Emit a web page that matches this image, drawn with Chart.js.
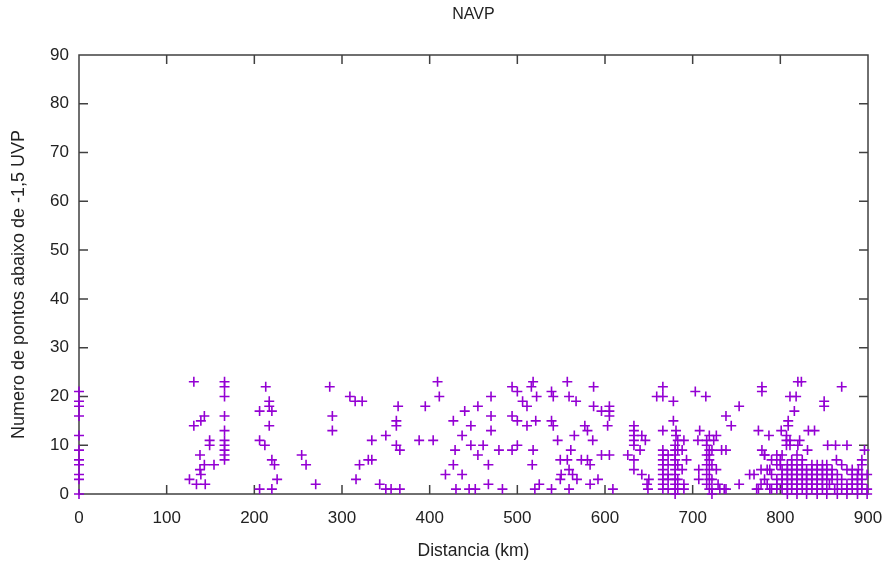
<!DOCTYPE html>
<html>
<head>
<meta charset="utf-8">
<script src="https://cdn.jsdelivr.net/npm/chart.js@4"></script>
<style>
  html, body { margin: 0; padding: 0; background: #fff; }
  #grafico { display: block; }
</style>
</head>
<body>
<canvas id="grafico" width="886" height="567"></canvas>
<script>
// pontos: [distancia km, numero de pontos]
const trecho0a300 = [
  [0,21],[0,19],[0,18],[0,16],[0,12],[0,9],[0,7],[0,6],[0,4],[0,3],[0,0],
  [131,23],[126,3],[134,2],[144,2],[139,4],[138,5],[143,6],[154,6],[138,8],[149,11],[149,10],[131,14],[139,15],[143,16],
  [166,23],[166,22],[166,20],[166,16],[166,13],[166,11],[166,10],[166,9],[166,8],[166,7],
  [213,22],[217,19],[217,18],[206,17],[220,17],[217,14],[206,11],[212,10],[220,7],[223,6],[226,3],[206,1],[220,1],
  [254,8],[259,6],[270,2],[286,22],[289,16],[289,13]
];
const trecho300a600 = [
  [309,20],[315,19],[323,19],[316,3],[320,6],[330,7],[334,7],[334,11],[343,2],[350,1],[350,12],
  [356,1],[366,1],[362,15],[362,14],[364,18],[362,10],[366,9],[388,11],[404,11],[395,18],
  [409,23],[411,20],[418,4],[427,6],[437,4],[429,9],[427,15],[437,12],[440,17],[447,14],[447,10],[455,8],[461,10],[455,18],
  [430,1],[445,1],[452,1],[467,2],[467,6],[470,20],[470,16],[470,13],
  [479,9],[483,1],[494,22],[500,21],[494,16],[500,15],[494,9],[500,10],[506,19],[511,18],[511,14],[516,22],[518,23],
  [521,15],[522,20],[518,9],[517,6],[520,1],[525,2],[539,21],[541,20],[539,15],[541,14],[539,1],[546,11],[549,7],[557,7],
  [549,3],[550,4],[557,23],[559,20],[567,19],[559,5],[563,4],[568,3],[559,1],[561,9],[565,12],[573,7],[577,14],[580,13],
  [580,7],[583,6],[583,2],[586,11],[587,22],[587,18],[592,3],
  [596,17],[605,18],[605,17],[605,16],[603,14],[596,8],[605,8]
];
const trecho600a750 = [
  [609,1],[626,8],[633,14],[633,13],[633,12],[633,11],[633,10],[633,7],[633,5],[640,9],[642,12],[646,11],[642,4],[650,3],[648,2],[649,1],
  [659,20],[666,22],[666,20],[666,13],[666,9],[666,8],[666,7],[666,6],[666,5],[666,4],[666,3],[666,2],[666,1],
  [672,8],[672,6],[672,4],[672,3],[672,1],
  [678,19],[678,15],[681,13],[681,12],[680,10],[680,9],[680,8],[680,7],[680,6],[680,5],[680,4],[680,3],[680,2],[680,1],[680,0],
  [683,11],[683,9],[683,6],[683,3],[683,1],
  [688,9],[688,5],[690,11],[693,7],[690,2],[690,1],
  [703,21],[708,13],[706,11],[707,5],[707,3],
  [715,20],[719,12],[727,12],[716,11],[724,11],[722,9],[733,9],[738,9],[719,8],
  [716,10],[719,9],[716,8],[719,7],[716,6],[719,5],[716,4],[719,3],[716,2],[719,1],[722,0],[722,6],[722,3],[722,1],
  [727,5],[729,2],[731,1],[736,1],[753,2],[738,16],[744,14],[753,18],[738,1]
];
const trecho750a900 = [
  [775,13],[779,22],[779,21],[779,9],[782,8],[787,12],[765,4],[770,4],[773,1],[775,1],[778,2],[778,5],[782,3],[788,5],[788,1],[790,7],[800,7],[800,6],
  [801,13],[807,12],[807,11],[811,11],[807,10],[811,10],[809,15],[809,14],[811,20],[818,20],[816,17],[820,23],[824,23],
  [822,11],[820,10],[831,9],[832,13],[839,13],[850,19],[850,18],[854,10],[863,10],[876,10],[870,22],[896,9],
  [864,7],[870,6],[876,5],[893,7],[889,5],
  // bloco denso perto do fim
  [790,1],[796,1],[802,1],[808,1],[813,1],[819,1],[825,1],[830,1],[836,1],[842,1],[848,1],[853,1],[862,1],[870,1],[876,1],[882,1],[888,1],[893,1],[899,1],
  [785,2],[796,2],[802,2],[808,2],[813,2],[819,2],[825,2],[830,2],[836,2],[842,2],[848,2],[856,2],[865,2],[876,2],[882,2],[888,2],[893,2],
  [796,3],[802,3],[808,3],[813,3],[819,3],[825,3],[830,3],[836,3],[842,3],[848,3],[853,3],[859,3],[870,3],[882,3],[888,3],[893,3],
  [790,4],[802,4],[808,4],[813,4],[819,4],[825,4],[830,4],[836,4],[842,4],[848,4],[853,4],[859,4],[865,4],[882,4],[888,4],[893,4],[899,4],
  [785,5],[802,5],[808,5],[813,5],[819,5],[825,5],[830,5],[836,5],[842,5],[848,5],[853,5],[859,5],[882,5],
  [796,6],[808,6],[813,6],[819,6],[825,6],[836,6],[842,6],[848,6],[853,6],[893,6],
  [813,7],[825,7],[782,8],[796,8],[802,8],[819,8],
  [808,0],[819,0],[830,0],[842,0],[853,0],[865,0],[876,0],[888,0],[899,0]
];

const ticksX = [0, 100, 200, 300, 400, 500, 600, 700, 800, 900];
const ticksY = [0, 10, 20, 30, 40, 50, 60, 70, 80, 90];
const titulo = "NAVP";

const pontos = [...trecho0a300, ...trecho300a600, ...trecho600a750, ...trecho750a900]
  .map(([x, y]) => ({ x, y }));

const fonte = "'Liberation Sans', Arial, sans-serif";

// moldura com marcas para dentro, estilo gnuplot
const moldura = {
  id: "moldura",
  beforeDatasetsDraw(chart) {
    const { ctx, chartArea: a, scales } = chart;
    const tam = 9;
    ctx.save();
    ctx.strokeStyle = "#404040";
    ctx.lineWidth = 1.5;
    ctx.strokeRect(a.left, a.top, a.right - a.left, a.bottom - a.top);
    ctx.beginPath();
    ticksX.slice(1, -1).forEach((v) => {
      const px = scales.x.getPixelForValue(v);
      ctx.moveTo(px, a.bottom); ctx.lineTo(px, a.bottom - tam);
      ctx.moveTo(px, a.top); ctx.lineTo(px, a.top + tam);
    });
    ticksY.slice(1, -1).forEach((v) => {
      const py = scales.y.getPixelForValue(v);
      ctx.moveTo(a.left, py); ctx.lineTo(a.left + tam, py);
      ctx.moveTo(a.right, py); ctx.lineTo(a.right - tam, py);
    });
    ctx.stroke();
    // titulo centrado sobre a area do grafico, como no gnuplot
    ctx.fillStyle = "#222";
    ctx.font = "16px " + fonte;
    ctx.textAlign = "center";
    ctx.textBaseline = "middle";
    ctx.fillText(titulo, (a.left + a.right) / 2, 15);
    ctx.restore();
  },
};

new Chart(document.getElementById("grafico"), {
  type: "scatter",
  data: {
    datasets: [{
      label: titulo,
      data: pontos,
      pointStyle: "cross",
      pointRadius: 5,
      pointHoverRadius: 5,
      pointBorderWidth: 1.6,
      borderColor: "#9400d3",
      backgroundColor: "#9400d3",
      clip: false,
    }],
  },
  options: {
    responsive: false,
    animation: false,
    devicePixelRatio: 1,
    layout: { padding: { left: 0, right: 18, top: 55, bottom: 0 } },
    events: [],
    plugins: {
      legend: { display: false },
      tooltip: { enabled: false },
      title: { display: false },
    },
    scales: {
      x: {
        type: "linear",
        min: 0,
        max: 900,
        afterFit: (s) => { s.height = 73; s.paddingRight = 0; s.paddingLeft = 0; },
        afterBuildTicks: (s) => { s.ticks = ticksX.map((v) => ({ value: v })); },
        grid: { display: false, drawTicks: false },
        border: { display: false },
        ticks: { color: "#222", padding: 14, maxRotation: 0, font: { family: fonte, size: 17 } },
        title: {
          display: true,
          text: "Distancia (km)",
          color: "#222",
          font: { family: fonte, size: 17.5 },
          padding: { top: 0, bottom: 5 },
        },
      },
      y: {
        type: "linear",
        min: 0,
        max: 90,
        afterFit: (s) => { s.width = 79; },
        afterBuildTicks: (s) => { s.ticks = ticksY.map((v) => ({ value: v })); },
        grid: { display: false, drawTicks: false },
        border: { display: false },
        ticks: { color: "#222", padding: 10, font: { family: fonte, size: 17 } },
        title: {
          display: true,
          text: "Numero de pontos abaixo de -1,5 UVP    ",
          color: "#222",
          font: { family: fonte, size: 18 },
          padding: { top: 8, bottom: 0 },
        },
      },
    },
  },
  plugins: [moldura],
});
</script>
</body>
</html>
